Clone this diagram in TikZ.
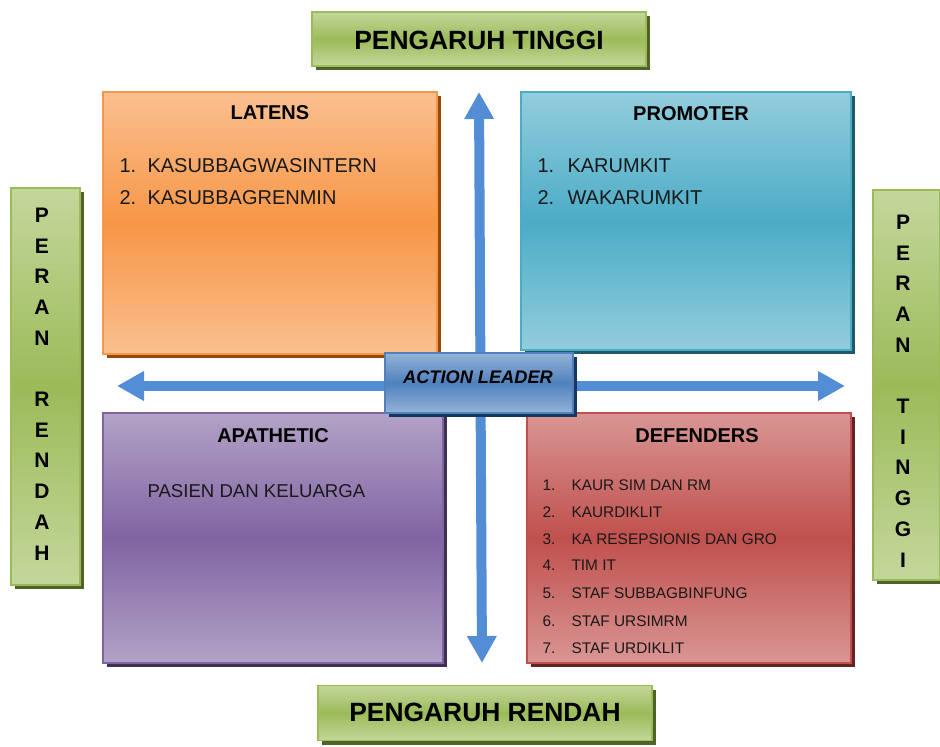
\documentclass[tikz,border=0pt]{standalone}
\usepackage{fontspec}
\setmainfont{Liberation Sans}
\usetikzlibrary{arrows.meta,shadows}

\definecolor{grnL}{RGB}{196,215,155}
\definecolor{grnM}{RGB}{155,187,89}
\definecolor{grnB}{RGB}{155,187,89}
\definecolor{grnS}{RGB}{79,98,40}
\definecolor{orgL}{RGB}{250,192,144}
\definecolor{orgM}{RGB}{247,150,70}
\definecolor{orgB}{RGB}{247,150,70}
\definecolor{orgS}{RGB}{152,72,7}
\definecolor{teaL}{RGB}{147,205,221}
\definecolor{teaM}{RGB}{75,172,198}
\definecolor{teaB}{RGB}{75,172,198}
\definecolor{teaS}{RGB}{33,89,104}
\definecolor{purL}{RGB}{179,162,199}
\definecolor{purM}{RGB}{128,100,162}
\definecolor{purB}{RGB}{128,100,162}
\definecolor{purS}{RGB}{63,49,81}
\definecolor{redL}{RGB}{217,150,148}
\definecolor{redM}{RGB}{192,80,77}
\definecolor{redB}{RGB}{192,80,77}
\definecolor{redS}{RGB}{99,37,35}
\definecolor{bluL}{RGB}{149,179,215}
\definecolor{bluM}{RGB}{79,129,189}
\definecolor{bluB}{RGB}{79,129,189}
\definecolor{bluS}{RGB}{23,55,94}
\definecolor{arrowblue}{RGB}{83,141,213}
\definecolor{inktext}{RGB}{25,25,25}

\tikzset{
  panel/.style={rectangle, inner sep=0pt, line width=1.5pt,
    draw=#1B, top color=#1L, bottom color=#1L, middle color=#1M,
    drop shadow={shadow xshift=4pt, shadow yshift=-4pt, fill=#1S, opacity=1}},
  heading/.style={font=\bfseries\fontsize{26.4}{30}\selectfont, text=black},
  sideletters/.style={font=\bfseries\fontsize{21}{30.7}\selectfont, align=center, text=black},
  qtitle/.style={font=\bfseries\fontsize{20}{24}\selectfont, anchor=base, text=black},
  bigitem/.style={font=\fontsize{20}{24}\selectfont, anchor=base west, text=inktext},
  miditem/.style={font=\fontsize{18.6}{22}\selectfont, anchor=base west, text=inktext},
  smallitem/.style={font=\fontsize{15.4}{18}\selectfont, anchor=base west, text=inktext},
  axisarrow/.style={draw=arrowblue, line width=10pt,
    -{Triangle[width=28pt,length=27pt,fill=arrowblue]}, shorten >=0pt}
}

\newcommand{\numitem}[3]{\makebox[#1][l]{#2}#3}

\begin{document}
\begin{tikzpicture}[x=1pt,y=-1pt]
\useasboundingbox (0,0) rectangle (940,747);

% crossing axes, under the quadrants
\coordinate (ctr) at (480.5,386);
\coordinate (axtop) at (479,92);
\coordinate (axbot) at (482,663);
\coordinate (axleft) at (117,386);
\coordinate (axright) at (845,386);
\draw[axisarrow] (ctr) -- (axtop);
\draw[axisarrow] (ctr) -- (axbot);
\draw[axisarrow] (ctr) -- (axleft);
\draw[axisarrow] (ctr) -- (axright);

% side labels
\node[panel=grn, minimum width=334pt, minimum height=54pt] (top) at (479,39) {};
\node[heading] (toptext) at (479,40) {PENGARUH TINGGI};
\node[panel=grn, minimum width=334pt, minimum height=55pt] (bottom) at (485,713) {};
\node[heading] (bottomtext) at (485,712) {PENGARUH RENDAH};
\node[panel=grn, minimum width=69pt, minimum height=397pt] (left) at (45.5,386.5) {};
\node[sideletters] (lefttext) at (42,384) {P\\E\\R\\A\\N\\~\\R\\E\\N\\D\\A\\H};
\node[panel=grn, minimum width=67pt, minimum height=390pt] (right) at (906.5,385) {};
\node[sideletters] (righttext) at (903,391) {P\\E\\R\\A\\N\\~\\T\\I\\N\\G\\G\\I};

% quadrants
\node[panel=org, minimum width=334pt, minimum height=262pt] (latens) at (270,223) {};
\node[qtitle] (latenstitle) at (270,119) {LATENS};
\node[bigitem] (lat1) at (116,172) {\numitem{28pt}{1.}{KASUBBAGWASINTERN}};
\node[bigitem] (lat2) at (116,204) {\numitem{28pt}{2.}{KASUBBAGRENMIN}};

\node[panel=tea, minimum width=330pt, minimum height=258pt] (promoter) at (686,221) {};
\node[qtitle] (promtitle) at (691,120) {PROMOTER};
\node[bigitem] (pro1) at (534,172) {\numitem{30pt}{1.}{KARUMKIT}};
\node[bigitem] (pro2) at (534,204) {\numitem{30pt}{2.}{WAKARUMKIT}};

\node[panel=pur, minimum width=340pt, minimum height=250pt] (apathetic) at (273,538) {};
\node[qtitle] (apatitle) at (273,442) {APATHETIC};
\node[miditem] (apa1) at (144,497.5) {PASIEN DAN KELUARGA};

\node[panel=red, minimum width=324pt, minimum height=250pt] (defenders) at (689,538) {};
\node[qtitle] (deftitle) at (697,442) {DEFENDERS};
\node[smallitem] (def1) at (539,490.5) {\numitem{29pt}{1.}{KAUR SIM DAN RM}};
\node[smallitem] (def2) at (539,517.5) {\numitem{29pt}{2.}{KAURDIKLIT}};
\node[smallitem] (def3) at (539,544.5) {\numitem{29pt}{3.}{KA RESEPSIONIS DAN GRO}};
\node[smallitem] (def4) at (539,570.5) {\numitem{29pt}{4.}{TIM IT}};
\node[smallitem] (def5) at (539,598.5) {\numitem{29pt}{5.}{STAF SUBBAGBINFUNG}};
\node[smallitem] (def6) at (539,626.5) {\numitem{29pt}{6.}{STAF URSIMRM}};
\node[smallitem] (def7) at (539,653.5) {\numitem{29pt}{7.}{STAF URDIKLIT}};

% centre label
\node[panel=blu, minimum width=188pt, minimum height=60pt] (leader) at (479,383) {};
\node[font=\bfseries\itshape\fontsize{18.2}{22}\selectfont, text=black] (leadertext) at (478,377) {ACTION LEADER};
\end{tikzpicture}
\end{document}
